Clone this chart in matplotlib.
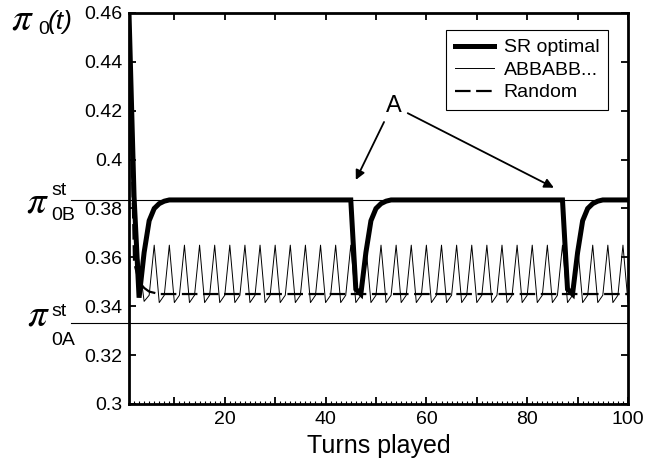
import matplotlib
matplotlib.use("Agg")
import matplotlib.pyplot as plt
from matplotlib.lines import Line2D
from matplotlib.ticker import FixedLocator, MultipleLocator
from matplotlib.transforms import blended_transform_factory

plt.rcParams['font.family'] = ['Liberation Sans', 'DejaVu Sans']

# stationary values
pi_0B = 0.3835
pi_0A = 0.3333

# SR optimal, key turns (flat in between)
sr_turns = [1, 2, 3, 4, 5, 6, 7, 8, 9,
            45, 46, 47, 48, 49, 50, 51, 52, 53,
            87, 88, 89, 90, 91, 92, 93, 94, 95, 100]
sr_values = [0.46, 0.385, 0.3435, 0.362, 0.375, 0.380, 0.382, 0.383, 0.3835,
             0.3835, 0.347, 0.345, 0.362, 0.375, 0.380, 0.382, 0.383, 0.3835,
             0.3835, 0.347, 0.345, 0.362, 0.375, 0.380, 0.382, 0.383, 0.3835, 0.3835]

# ABBABB... : start, then a 3-turn cycle (peak, low, mid)
abb_head = [0.46, 0.372, 0.358, 0.342, 0.3445]
abb_cycle = [0.365, 0.3415, 0.3445]
abb_values = (abb_head + abb_cycle * 32)[:100]
abb_turns = list(range(1, 101))

# Random
rand_turns = [1, 2, 3, 4, 5, 6, 7, 8, 100]
rand_values = [0.46, 0.358, 0.350, 0.3475, 0.346, 0.3455, 0.345, 0.345, 0.345]

W, H = 649, 469
def fx(x):
    return x / W
def fy(y):
    return 1 - y / H

fig = plt.figure(figsize=(6.49, 4.69), dpi=100)
ax = fig.add_axes([fx(129), fy(404), (628 - 129) / W, (404 - 13) / H])

ax.plot(abb_turns, abb_values, color='black', lw=0.7, label='ABBABB...', zorder=3)
ax.plot(rand_turns, rand_values, color='black', lw=1.6, dashes=(7, 2.5),
        label='Random', zorder=4)
ax.plot(sr_turns, sr_values, color='black', lw=3.6, label='SR optimal', zorder=5,
        solid_joinstyle='miter')

ax.set_xlim(1, 100)
ax.set_ylim(0.3, 0.46)

# stationary lines, running out to the labels on the left
trans = blended_transform_factory(fig.transFigure, ax.transData)
for yv in (pi_0B, pi_0A):
    fig.add_artist(Line2D([fx(71), fx(628)], [yv, yv], transform=trans,
                          color='black', lw=0.8))

ax.xaxis.set_major_locator(FixedLocator(list(range(10, 101, 10))))
ax.set_xticklabels(['' if v % 20 else str(v) for v in range(10, 101, 10)])
ax.xaxis.set_minor_locator(MultipleLocator(1))
yt = [0.30, 0.32, 0.34, 0.36, 0.38, 0.40, 0.42, 0.44, 0.46]
ax.set_yticks(yt)
ax.set_yticklabels(['%g' % v for v in yt])
ax.tick_params(which='major', direction='in', top=True, right=True,
               length=5, width=1.3, labelsize=14, pad=5)
ax.tick_params(axis='x', which='minor', direction='in', top=False, bottom=True,
               length=2, width=0.8)
for sp in ax.spines.values():
    sp.set_linewidth(2.0)

ax.set_xlabel('Turns played', fontsize=18, labelpad=4)

handles, labels = ax.get_legend_handles_labels()
order = [2, 0, 1]
leg = ax.legend([handles[i] for i in order], [labels[i] for i in order],
                loc='upper right', bbox_to_anchor=(0.96, 0.9565),
                borderaxespad=0, fontsize=14, frameon=True, fancybox=False,
                edgecolor='black', framealpha=1, handlelength=2.0,
                handletextpad=0.5, labelspacing=0.25, borderpad=0.45)
leg.get_frame().set_linewidth(0.8)

# annotation A
ax.text(53.5, 0.4221, 'A', fontsize=17, ha='center', va='center')
ax.annotate('', xy=(46.0, 0.3917), xytext=(51.6, 0.4154),
            arrowprops=dict(arrowstyle='-|>', color='black', lw=1.3,
                            mutation_scale=14, shrinkA=0, shrinkB=0))
ax.annotate('', xy=(85.3, 0.3885), xytext=(56.3, 0.419),
            arrowprops=dict(arrowstyle='-|>', color='black', lw=1.3,
                            mutation_scale=14, shrinkA=0, shrinkB=0))

# y label pi_0(t)
pi_kw = dict(fontsize=28, math_fontfamily='stix', va='baseline')
fig.text(fx(11), fy(29), r'$\pi$', **pi_kw)
fig.text(fx(38), fy(34), '0', fontsize=14, va='baseline')
fig.text(fx(48), fy(29), '(t)', fontsize=19, style='italic', va='baseline')

# stationary labels
fig.text(fx(26), fy(212), r'$\pi$', **pi_kw)
fig.text(fx(51), fy(195), 'st', fontsize=14, va='baseline')
fig.text(fx(51), fy(220), '0B', fontsize=14, va='baseline')
fig.text(fx(27), fy(325), r'$\pi$', **pi_kw)
fig.text(fx(51), fy(316), 'st', fontsize=14, va='baseline')
fig.text(fx(51), fy(345), '0A', fontsize=14, va='baseline')

fig.savefig('out.png', dpi=100)
